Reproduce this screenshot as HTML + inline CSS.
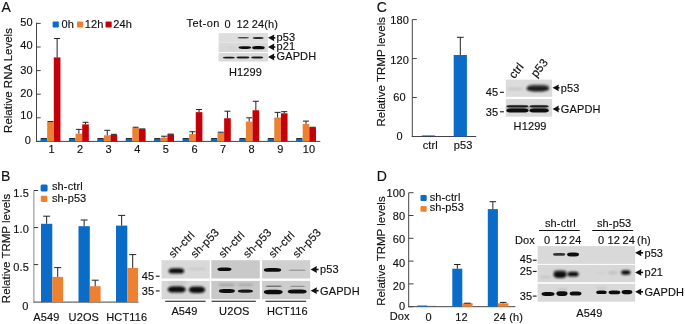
<!DOCTYPE html>
<html><head><meta charset="utf-8"><style>
html,body{margin:0;padding:0;background:#fff;}
svg{display:block;font-family:"Liberation Sans",sans-serif;filter:blur(0.35px);}
text{fill:#111;stroke:#111;stroke-width:0.15px;letter-spacing:0.12px;}
</style></head><body>
<svg width="685" height="324" viewBox="0 0 685 324">
<defs>
<filter id="b5" x="-20%" y="-100%" width="140%" height="300%"><feGaussianBlur stdDeviation="0.5"/></filter>
<filter id="b6" x="-20%" y="-100%" width="140%" height="300%"><feGaussianBlur stdDeviation="0.6"/></filter>
<filter id="b7" x="-20%" y="-100%" width="140%" height="300%"><feGaussianBlur stdDeviation="0.7"/></filter>
<filter id="b8" x="-20%" y="-100%" width="140%" height="300%"><feGaussianBlur stdDeviation="0.8"/></filter>
<filter id="b9" x="-20%" y="-100%" width="140%" height="300%"><feGaussianBlur stdDeviation="0.9"/></filter>
<filter id="b10" x="-20%" y="-100%" width="140%" height="300%"><feGaussianBlur stdDeviation="1.0"/></filter>
</defs>
<rect width="685" height="324" fill="#fff"/>
<text x="1.5" y="12.2" font-size="14" text-anchor="start" >A</text>
<line x1="36.5" y1="22.7" x2="36.5" y2="141.9" stroke="#444" stroke-width="1"/>
<line x1="36" y1="141.4" x2="320.3" y2="141.4" stroke="#444" stroke-width="1"/>
<line x1="36.5" y1="141.4" x2="40.7" y2="141.4" stroke="#444" stroke-width="1"/>
<text x="30.9" y="144.0" font-size="11" text-anchor="end" >0</text>
<line x1="36.5" y1="117.80000000000001" x2="40.7" y2="117.80000000000001" stroke="#444" stroke-width="1"/>
<text x="32.8" y="119.0" font-size="11" text-anchor="end" >10</text>
<line x1="36.5" y1="94.2" x2="40.7" y2="94.2" stroke="#444" stroke-width="1"/>
<text x="32.8" y="96.7" font-size="11" text-anchor="end" >20</text>
<line x1="36.5" y1="70.6" x2="40.7" y2="70.6" stroke="#444" stroke-width="1"/>
<text x="32.8" y="73.5" font-size="11" text-anchor="end" >30</text>
<line x1="36.5" y1="47.0" x2="40.7" y2="47.0" stroke="#444" stroke-width="1"/>
<text x="32.8" y="49.3" font-size="11" text-anchor="end" >40</text>
<line x1="36.5" y1="23.400000000000006" x2="40.7" y2="23.400000000000006" stroke="#444" stroke-width="1"/>
<text x="32.8" y="26.2" font-size="11" text-anchor="end" >50</text>
<text transform="translate(12,80.5) rotate(-90)" font-size="11.5" style="letter-spacing:0" text-anchor="middle">Relative RNA Levels</text>
<rect x="52.60" y="21.40" width="6.20" height="6.20" fill="#0a6cc6" rx="1"/>
<text x="61.4" y="28" font-size="11" text-anchor="start" >0h</text>
<rect x="77.00" y="21.40" width="6.20" height="6.20" fill="#ee8032" rx="1"/>
<text x="84.7" y="28" font-size="11" text-anchor="start" >12h</text>
<rect x="105.50" y="21.40" width="6.20" height="6.20" fill="#c40008" rx="1"/>
<text x="113.2" y="28" font-size="11" text-anchor="start" >24h</text>
<rect x="40.50" y="138.57" width="6.65" height="2.83" fill="#0a6cc6" />
<line x1="40.825" y1="138.568" x2="46.825" y2="138.568" stroke="#222" stroke-width="1"/>
<rect x="47.15" y="122.05" width="6.65" height="19.35" fill="#ee8032" />
<line x1="47.475" y1="121.57600000000001" x2="53.475" y2="121.57600000000001" stroke="#222" stroke-width="1"/>
<rect x="53.80" y="57.38" width="6.65" height="84.02" fill="#c40008" />
<line x1="57.125" y1="57.384" x2="57.125" y2="38.504000000000005" stroke="#222" stroke-width="1"/>
<line x1="54.125" y1="38.504000000000005" x2="60.125" y2="38.504000000000005" stroke="#222" stroke-width="1"/>
<text x="51.5" y="153.2" font-size="11" text-anchor="middle" >1</text>
<rect x="68.89" y="138.57" width="6.65" height="2.83" fill="#0a6cc6" />
<line x1="69.215" y1="138.568" x2="75.215" y2="138.568" stroke="#222" stroke-width="1"/>
<rect x="75.54" y="133.61" width="6.65" height="7.79" fill="#ee8032" />
<line x1="78.86500000000001" y1="133.612" x2="78.86500000000001" y2="129.364" stroke="#222" stroke-width="1"/>
<line x1="75.86500000000001" y1="129.364" x2="81.86500000000001" y2="129.364" stroke="#222" stroke-width="1"/>
<rect x="82.19" y="124.41" width="6.65" height="16.99" fill="#c40008" />
<line x1="85.515" y1="124.408" x2="85.515" y2="122.284" stroke="#222" stroke-width="1"/>
<line x1="82.515" y1="122.284" x2="88.515" y2="122.284" stroke="#222" stroke-width="1"/>
<text x="80.1" y="153.2" font-size="11" text-anchor="middle" >2</text>
<rect x="97.28" y="138.57" width="6.65" height="2.83" fill="#0a6cc6" />
<line x1="97.605" y1="138.568" x2="103.605" y2="138.568" stroke="#222" stroke-width="1"/>
<rect x="103.93" y="135.26" width="6.65" height="6.14" fill="#ee8032" />
<line x1="107.25500000000001" y1="135.264" x2="107.25500000000001" y2="130.308" stroke="#222" stroke-width="1"/>
<line x1="104.25500000000001" y1="130.308" x2="110.25500000000001" y2="130.308" stroke="#222" stroke-width="1"/>
<rect x="110.58" y="134.91" width="6.65" height="6.49" fill="#c40008" />
<line x1="113.905" y1="134.91" x2="113.905" y2="134.32" stroke="#222" stroke-width="1"/>
<line x1="110.905" y1="134.32" x2="116.905" y2="134.32" stroke="#222" stroke-width="1"/>
<text x="108.7" y="153.2" font-size="11" text-anchor="middle" >3</text>
<rect x="125.67" y="138.57" width="6.65" height="2.83" fill="#0a6cc6" />
<line x1="125.995" y1="138.568" x2="131.995" y2="138.568" stroke="#222" stroke-width="1"/>
<rect x="132.32" y="127.95" width="6.65" height="13.45" fill="#ee8032" />
<line x1="135.64499999999998" y1="127.94800000000001" x2="135.64499999999998" y2="127.24000000000001" stroke="#222" stroke-width="1"/>
<line x1="132.64499999999998" y1="127.24000000000001" x2="138.64499999999998" y2="127.24000000000001" stroke="#222" stroke-width="1"/>
<rect x="138.97" y="129.13" width="6.65" height="12.27" fill="#c40008" />
<line x1="139.295" y1="128.892" x2="145.295" y2="128.892" stroke="#222" stroke-width="1"/>
<text x="137.3" y="153.2" font-size="11" text-anchor="middle" >4</text>
<rect x="154.06" y="138.57" width="6.65" height="2.83" fill="#0a6cc6" />
<line x1="154.385" y1="138.568" x2="160.385" y2="138.568" stroke="#222" stroke-width="1"/>
<rect x="160.71" y="137.62" width="6.65" height="3.78" fill="#ee8032" />
<line x1="164.035" y1="137.624" x2="164.035" y2="136.208" stroke="#222" stroke-width="1"/>
<line x1="161.035" y1="136.208" x2="167.035" y2="136.208" stroke="#222" stroke-width="1"/>
<rect x="167.36" y="134.32" width="6.65" height="7.08" fill="#c40008" />
<line x1="167.685" y1="134.084" x2="173.685" y2="134.084" stroke="#222" stroke-width="1"/>
<text x="165.9" y="153.2" font-size="11" text-anchor="middle" >5</text>
<rect x="182.45" y="138.57" width="6.65" height="2.83" fill="#0a6cc6" />
<line x1="182.77499999999998" y1="138.568" x2="188.77499999999998" y2="138.568" stroke="#222" stroke-width="1"/>
<rect x="189.10" y="134.08" width="6.65" height="7.32" fill="#ee8032" />
<line x1="192.42499999999998" y1="134.084" x2="192.42499999999998" y2="131.72400000000002" stroke="#222" stroke-width="1"/>
<line x1="189.42499999999998" y1="131.72400000000002" x2="195.42499999999998" y2="131.72400000000002" stroke="#222" stroke-width="1"/>
<rect x="195.75" y="112.14" width="6.65" height="29.26" fill="#c40008" />
<line x1="199.075" y1="112.13600000000001" x2="199.075" y2="109.54" stroke="#222" stroke-width="1"/>
<line x1="196.075" y1="109.54" x2="202.075" y2="109.54" stroke="#222" stroke-width="1"/>
<text x="194.5" y="153.2" font-size="11" text-anchor="middle" >6</text>
<rect x="210.84" y="138.57" width="6.65" height="2.83" fill="#0a6cc6" />
<line x1="211.165" y1="138.568" x2="217.165" y2="138.568" stroke="#222" stroke-width="1"/>
<rect x="217.49" y="132.67" width="6.65" height="8.73" fill="#ee8032" />
<line x1="217.815" y1="132.196" x2="223.815" y2="132.196" stroke="#222" stroke-width="1"/>
<rect x="224.14" y="118.27" width="6.65" height="23.13" fill="#c40008" />
<line x1="227.465" y1="118.272" x2="227.465" y2="111.19200000000001" stroke="#222" stroke-width="1"/>
<line x1="224.465" y1="111.19200000000001" x2="230.465" y2="111.19200000000001" stroke="#222" stroke-width="1"/>
<text x="223.10000000000002" y="153.2" font-size="11" text-anchor="middle" >7</text>
<rect x="239.23" y="138.57" width="6.65" height="2.83" fill="#0a6cc6" />
<line x1="239.555" y1="138.568" x2="245.555" y2="138.568" stroke="#222" stroke-width="1"/>
<rect x="245.88" y="121.58" width="6.65" height="19.82" fill="#ee8032" />
<line x1="249.205" y1="121.57600000000001" x2="249.205" y2="117.80000000000001" stroke="#222" stroke-width="1"/>
<line x1="246.205" y1="117.80000000000001" x2="252.205" y2="117.80000000000001" stroke="#222" stroke-width="1"/>
<rect x="252.53" y="110.25" width="6.65" height="31.15" fill="#c40008" />
<line x1="255.85500000000002" y1="110.248" x2="255.85500000000002" y2="101.28" stroke="#222" stroke-width="1"/>
<line x1="252.85500000000002" y1="101.28" x2="258.855" y2="101.28" stroke="#222" stroke-width="1"/>
<text x="251.70000000000002" y="153.2" font-size="11" text-anchor="middle" >8</text>
<rect x="267.62" y="138.57" width="6.65" height="2.83" fill="#0a6cc6" />
<line x1="267.945" y1="138.568" x2="273.945" y2="138.568" stroke="#222" stroke-width="1"/>
<rect x="274.27" y="117.56" width="6.65" height="23.84" fill="#ee8032" />
<line x1="277.59499999999997" y1="117.56400000000001" x2="277.59499999999997" y2="112.37200000000001" stroke="#222" stroke-width="1"/>
<line x1="274.59499999999997" y1="112.37200000000001" x2="280.59499999999997" y2="112.37200000000001" stroke="#222" stroke-width="1"/>
<rect x="280.92" y="113.32" width="6.65" height="28.08" fill="#c40008" />
<line x1="284.245" y1="113.316" x2="284.245" y2="111.66400000000002" stroke="#222" stroke-width="1"/>
<line x1="281.245" y1="111.66400000000002" x2="287.245" y2="111.66400000000002" stroke="#222" stroke-width="1"/>
<text x="280.3" y="153.2" font-size="11" text-anchor="middle" >9</text>
<rect x="296.01" y="138.57" width="6.65" height="2.83" fill="#0a6cc6" />
<line x1="296.335" y1="138.568" x2="302.335" y2="138.568" stroke="#222" stroke-width="1"/>
<rect x="302.66" y="123.94" width="6.65" height="17.46" fill="#ee8032" />
<line x1="305.98499999999996" y1="123.936" x2="305.98499999999996" y2="121.10400000000001" stroke="#222" stroke-width="1"/>
<line x1="302.98499999999996" y1="121.10400000000001" x2="308.98499999999996" y2="121.10400000000001" stroke="#222" stroke-width="1"/>
<rect x="309.31" y="127.48" width="6.65" height="13.92" fill="#c40008" />
<line x1="309.635" y1="127.24000000000001" x2="315.635" y2="127.24000000000001" stroke="#222" stroke-width="1"/>
<text x="308.90000000000003" y="153.2" font-size="11" text-anchor="middle" >10</text>
<text x="186.5" y="26.7" font-size="11" text-anchor="start" style="letter-spacing:0.45px">Tet-on</text>
<text x="224.6" y="27.5" font-size="11" text-anchor="start" >0</text>
<text x="236.6" y="27.5" font-size="11" text-anchor="start" >12</text>
<text x="251.8" y="27.5" font-size="11" text-anchor="start" >24(h)</text>
<rect x="218.60" y="33.10" width="49.30" height="9.40" fill="#dedede" />
<rect x="218.60" y="42.50" width="49.30" height="9.50" fill="#d9d9d9" />
<rect x="218.60" y="52.90" width="49.30" height="8.60" fill="#dadada" />
<rect x="237.5" y="37.1" width="11.5" height="1.5" rx="2.7" ry="0.8" fill="#111" opacity="0.7" filter="url(#b5)"/>
<rect x="252.7" y="36.9" width="11.0" height="2.0" rx="3.2" ry="1.0" fill="#111" opacity="0.85" filter="url(#b5)"/>
<rect x="226.0" y="46.9" width="10.0" height="1.5" rx="2.7" ry="0.8" fill="#111" opacity="0.06" filter="url(#b8)"/>
<rect x="238.5" y="46.2" width="12.6" height="2.8" rx="3.8" ry="1.4" fill="#111" opacity="1" filter="url(#b5)"/>
<rect x="252.2" y="46.1" width="12.5" height="3.1" rx="3.8" ry="1.6" fill="#111" opacity="1" filter="url(#b5)"/>
<rect x="222.8" y="56.7" width="12.1" height="1.8" rx="3.0" ry="0.9" fill="#111" opacity="0.95" filter="url(#b5)"/>
<rect x="236.4" y="56.6" width="13.1" height="2.0" rx="3.2" ry="1.0" fill="#111" opacity="0.95" filter="url(#b5)"/>
<rect x="251.1" y="56.6" width="12.1" height="2.0" rx="3.2" ry="1.0" fill="#111" opacity="0.95" filter="url(#b5)"/>
<path d="M268 37.8 L274.3 34.4 L273.8 37.8 L274.3 41.199999999999996 Z" fill="#111"/>
<line x1="271.5" y1="37.8" x2="275.3" y2="37.8" stroke="#111" stroke-width="1.6"/>
<text x="276.5" y="41.199999999999996" font-size="11" text-anchor="start" >p53</text>
<path d="M268 47 L274.3 43.6 L273.8 47 L274.3 50.4 Z" fill="#111"/>
<line x1="271.5" y1="47" x2="275.3" y2="47" stroke="#111" stroke-width="1.6"/>
<text x="276.5" y="50.4" font-size="11" text-anchor="start" >p21</text>
<path d="M268 57 L274.3 53.6 L273.8 57 L274.3 60.4 Z" fill="#111"/>
<line x1="271.5" y1="57" x2="275.3" y2="57" stroke="#111" stroke-width="1.6"/>
<text x="276.5" y="60.4" font-size="11" text-anchor="start" >GAPDH</text>
<text x="228.9" y="75.6" font-size="11" text-anchor="start" >H1299</text>
<text x="376.8" y="11.9" font-size="14" text-anchor="start" >C</text>
<line x1="412.3" y1="19.6" x2="412.3" y2="137.0" stroke="#444" stroke-width="1"/>
<line x1="411.8" y1="136.5" x2="476.2" y2="136.5" stroke="#444" stroke-width="1"/>
<line x1="412.3" y1="136.5" x2="416.8" y2="136.5" stroke="#444" stroke-width="1"/>
<text x="399.6" y="140.1" font-size="11" text-anchor="middle" >0</text>
<line x1="412.3" y1="97.53" x2="416.8" y2="97.53" stroke="#444" stroke-width="1"/>
<text x="399.6" y="101.2" font-size="11" text-anchor="middle" >60</text>
<line x1="412.3" y1="58.56" x2="416.8" y2="58.56" stroke="#444" stroke-width="1"/>
<text x="399.6" y="63.6" font-size="11" text-anchor="middle" >120</text>
<line x1="412.3" y1="19.590000000000003" x2="416.8" y2="19.590000000000003" stroke="#444" stroke-width="1"/>
<text x="399.6" y="24.2" font-size="11" text-anchor="middle" >180</text>
<text transform="translate(385,71.8) rotate(-90)" font-size="11.5" style="letter-spacing:0" text-anchor="middle">Relative TRMP levels</text>
<rect x="421.90" y="135.50" width="13.00" height="1.00" fill="#1d3f78" />
<rect x="453.70" y="55.00" width="13.20" height="81.50" fill="#0a6cc6" />
<line x1="460.3" y1="55" x2="460.3" y2="37.3" stroke="#222" stroke-width="1"/>
<line x1="456.90000000000003" y1="37.3" x2="463.7" y2="37.3" stroke="#222" stroke-width="1"/>
<text x="430.3" y="149.3" font-size="11" text-anchor="middle" >ctrl</text>
<text x="463.1" y="149.3" font-size="11" text-anchor="middle" >p53</text>
<rect x="505.80" y="79.60" width="46.30" height="17.20" fill="#dcdcdc" />
<rect x="505.80" y="99.00" width="46.30" height="17.70" fill="#dadada" />
<rect x="507.0" y="87.7" width="16.0" height="2.5" rx="3.8" ry="1.2" fill="#111" opacity="0.1" filter="url(#b10)"/>
<rect x="528.0" y="84.2" width="21.0" height="4.0" rx="5.4" ry="2.0" fill="#111" opacity="0.35" filter="url(#b10)"/>
<rect x="526.4" y="85.8" width="22.9" height="5.6" rx="6.9" ry="2.8" fill="#1a1a1a" opacity="1" filter="url(#b8)"/>
<rect x="506.3" y="105.7" width="22.3" height="5.0" rx="6.5" ry="2.5" fill="#111" opacity="0.45" filter="url(#b8)"/>
<rect x="506.3" y="105.2" width="22.3" height="2.0" rx="3.2" ry="1.0" fill="#111" opacity="0.9" filter="url(#b6)"/>
<rect x="506.3" y="108.6" width="22.3" height="4.0" rx="5.4" ry="2.0" fill="#111" opacity="1" filter="url(#b6)"/>
<rect x="529.4" y="105.7" width="19.4" height="5.0" rx="5.8" ry="2.5" fill="#111" opacity="0.45" filter="url(#b8)"/>
<rect x="529.4" y="105.2" width="19.4" height="2.0" rx="3.2" ry="1.0" fill="#111" opacity="0.9" filter="url(#b6)"/>
<rect x="529.4" y="108.6" width="19.4" height="4.0" rx="5.4" ry="2.0" fill="#111" opacity="1" filter="url(#b6)"/>
<text x="498.2" y="96.2" font-size="11" text-anchor="end" >45</text>
<line x1="500" y1="92.3" x2="503.9" y2="92.3" stroke="#111" stroke-width="1.1"/>
<text x="498.2" y="115.5" font-size="11" text-anchor="end" >35</text>
<line x1="500" y1="111.8" x2="503.9" y2="111.8" stroke="#111" stroke-width="1.1"/>
<path d="M552.5 87.8 L558.8 84.39999999999999 L558.3 87.8 L558.8 91.2 Z" fill="#111"/>
<line x1="556.0" y1="87.8" x2="559.5" y2="87.8" stroke="#111" stroke-width="1.6"/>
<text x="560.8" y="91.7" font-size="11" text-anchor="start" >p53</text>
<path d="M552.5 109 L558.8 105.6 L558.3 109 L558.8 112.4 Z" fill="#111"/>
<line x1="556.0" y1="109" x2="559.5" y2="109" stroke="#111" stroke-width="1.6"/>
<text x="560.8" y="112.9" font-size="11" text-anchor="start" >GAPDH</text>
<text x="513.6" y="129.5" font-size="11" text-anchor="start" >H1299</text>
<text transform="translate(514.2,79.3) rotate(-51)" font-size="11.6">ctrl</text>
<text transform="translate(536.2,78) rotate(-51)" font-size="11.6">p53</text>
<text x="1" y="181.2" font-size="14" text-anchor="start" >B</text>
<line x1="33.9" y1="190.5" x2="33.9" y2="302.6" stroke="#888" stroke-width="1"/>
<line x1="33.5" y1="302.1" x2="138.5" y2="302.1" stroke="#444" stroke-width="1"/>
<line x1="33.9" y1="264.6" x2="38.2" y2="264.6" stroke="#333" stroke-width="1"/>
<text x="29" y="271.4" font-size="11" text-anchor="end" >0.5</text>
<line x1="33.9" y1="227.6" x2="38.2" y2="227.6" stroke="#333" stroke-width="1"/>
<text x="29" y="233.4" font-size="11" text-anchor="end" >1.0</text>
<line x1="33.9" y1="190.5" x2="38.2" y2="190.5" stroke="#333" stroke-width="1"/>
<text x="29" y="196.6" font-size="11" text-anchor="end" >1.5</text>
<text x="28.4" y="310.09999999999997" font-size="11" text-anchor="end" >0</text>
<text transform="translate(9.6,248.4) rotate(-90)" font-size="11.5" style="letter-spacing:0" text-anchor="middle">Relative TRMP levels</text>
<rect x="40.60" y="184.60" width="7.00" height="7.00" fill="#0a6cc6" rx="1.5"/>
<text x="52" y="190.1" font-size="11" text-anchor="start" >sh-ctrl</text>
<rect x="40.80" y="195.70" width="6.50" height="6.30" fill="#ee8032" rx="1"/>
<text x="52" y="201.6" font-size="11" text-anchor="start" >sh-p53</text>
<rect x="41.00" y="223.80" width="11.30" height="78.30" fill="#0a6cc6" />
<line x1="46.65" y1="223.8" x2="46.65" y2="216.2" stroke="#222" stroke-width="1"/>
<line x1="43.15" y1="216.2" x2="50.15" y2="216.2" stroke="#222" stroke-width="1"/>
<rect x="52.30" y="276.90" width="10.80" height="25.20" fill="#ee8032" />
<line x1="57.699999999999996" y1="276.9" x2="57.699999999999996" y2="267.6" stroke="#222" stroke-width="1"/>
<line x1="54.199999999999996" y1="267.6" x2="61.199999999999996" y2="267.6" stroke="#222" stroke-width="1"/>
<rect x="78.50" y="226.20" width="11.30" height="75.90" fill="#0a6cc6" />
<line x1="84.15" y1="226.2" x2="84.15" y2="220" stroke="#222" stroke-width="1"/>
<line x1="80.65" y1="220" x2="87.65" y2="220" stroke="#222" stroke-width="1"/>
<rect x="89.80" y="286.20" width="10.80" height="15.90" fill="#ee8032" />
<line x1="95.2" y1="286.2" x2="95.2" y2="280.2" stroke="#222" stroke-width="1"/>
<line x1="91.7" y1="280.2" x2="98.7" y2="280.2" stroke="#222" stroke-width="1"/>
<rect x="116.00" y="225.60" width="11.30" height="76.50" fill="#0a6cc6" />
<line x1="121.65" y1="225.6" x2="121.65" y2="215.4" stroke="#222" stroke-width="1"/>
<line x1="118.15" y1="215.4" x2="125.15" y2="215.4" stroke="#222" stroke-width="1"/>
<rect x="127.30" y="267.90" width="10.80" height="34.20" fill="#ee8032" />
<line x1="132.7" y1="267.9" x2="132.7" y2="254.6" stroke="#222" stroke-width="1"/>
<line x1="129.2" y1="254.6" x2="136.2" y2="254.6" stroke="#222" stroke-width="1"/>
<text x="46.3" y="321" font-size="11" text-anchor="middle" >A549</text>
<text x="83.8" y="321" font-size="11" text-anchor="middle" >U2OS</text>
<text x="126.7" y="321" font-size="11" text-anchor="middle" >HCT116</text>
<rect x="161.50" y="260.20" width="48.30" height="18.30" fill="#d9d9d9" />
<rect x="161.50" y="280.90" width="48.30" height="18.30" fill="#d7d7d7" />
<rect x="211.30" y="260.20" width="48.50" height="18.30" fill="#c9c9c9" />
<rect x="211.30" y="280.90" width="48.50" height="18.30" fill="#c8c8c8" />
<rect x="262.10" y="260.20" width="48.10" height="18.30" fill="#d0d0d0" />
<rect x="262.10" y="280.90" width="48.10" height="18.30" fill="#cdcdcd" />
<rect x="168.6" y="268.2" width="15.6" height="5.4" rx="4.7" ry="2.7" fill="#111" opacity="1" filter="url(#b8)"/>
<rect x="188.0" y="268.0" width="18.0" height="2.0" rx="3.2" ry="1.0" fill="#111" opacity="0.08" filter="url(#b10)"/>
<rect x="168.0" y="281.8" width="18.5" height="2.0" rx="3.2" ry="1.0" fill="#111" opacity="0.12" filter="url(#b10)"/>
<rect x="167.7" y="286.2" width="18.1" height="6.4" rx="5.4" ry="3.2" fill="#111" opacity="1" filter="url(#b8)"/>
<rect x="188.8" y="286.6" width="16.4" height="6.4" rx="4.9" ry="3.2" fill="#111" opacity="1" filter="url(#b8)"/>
<rect x="217.4" y="267.5" width="14.1" height="3.6" rx="4.2" ry="1.8" fill="#111" opacity="1" filter="url(#b7)"/>
<rect x="218.5" y="283.7" width="16.5" height="2.2" rx="3.4" ry="1.1" fill="#111" opacity="0.22" filter="url(#b9)"/>
<rect x="237.9" y="283.7" width="15.2" height="2.2" rx="3.4" ry="1.1" fill="#111" opacity="0.18" filter="url(#b9)"/>
<rect x="218.9" y="289.1" width="16.0" height="3.8" rx="4.8" ry="1.9" fill="#111" opacity="1" filter="url(#b7)"/>
<rect x="237.8" y="289.4" width="15.2" height="3.4" rx="4.6" ry="1.7" fill="#111" opacity="0.95" filter="url(#b7)"/>
<rect x="263.8" y="268.0" width="17.4" height="3.8" rx="5.2" ry="1.9" fill="#111" opacity="1" filter="url(#b7)"/>
<rect x="288.5" y="269.4" width="17.4" height="1.5" rx="2.7" ry="0.8" fill="#111" opacity="0.25" filter="url(#b7)"/>
<rect x="265.5" y="285.6" width="16.5" height="1.5" rx="2.7" ry="0.8" fill="#111" opacity="0.45" filter="url(#b6)"/>
<rect x="290.0" y="285.7" width="15.0" height="1.2" rx="2.3" ry="0.6" fill="#111" opacity="0.3" filter="url(#b6)"/>
<rect x="263.8" y="289.7" width="18.9" height="4.6" rx="5.7" ry="2.3" fill="#111" opacity="1" filter="url(#b7)"/>
<rect x="287.8" y="289.5" width="18.8" height="4.0" rx="5.4" ry="2.0" fill="#111" opacity="1" filter="url(#b7)"/>
<line x1="165.2" y1="301.3" x2="205.6" y2="301.3" stroke="#111" stroke-width="1.1"/>
<text x="184.5" y="314.5" font-size="11" text-anchor="middle" >A549</text>
<line x1="211.6" y1="301.3" x2="255.8" y2="301.3" stroke="#111" stroke-width="1.1"/>
<text x="234.3" y="314.5" font-size="11" text-anchor="middle" >U2OS</text>
<line x1="265.5" y1="301.3" x2="306.2" y2="301.3" stroke="#111" stroke-width="1.1"/>
<text x="287.4" y="314.5" font-size="11" text-anchor="middle" >HCT116</text>
<text x="154.3" y="280" font-size="11" text-anchor="end" >45</text>
<line x1="155.8" y1="276.2" x2="159.6" y2="276.2" stroke="#111" stroke-width="1.1"/>
<text x="154.3" y="294.6" font-size="11" text-anchor="end" >35</text>
<line x1="155.8" y1="290.9" x2="159.6" y2="290.9" stroke="#111" stroke-width="1.1"/>
<path d="M310.6 269.5 L316.90000000000003 266.1 L316.40000000000003 269.5 L316.90000000000003 272.9 Z" fill="#111"/>
<line x1="314.1" y1="269.5" x2="318.6" y2="269.5" stroke="#111" stroke-width="1.6"/>
<text x="320" y="273.4" font-size="11" text-anchor="start" >p53</text>
<path d="M310.6 290.7 L316.90000000000003 287.3 L316.40000000000003 290.7 L316.90000000000003 294.09999999999997 Z" fill="#111"/>
<line x1="314.1" y1="290.7" x2="318.6" y2="290.7" stroke="#111" stroke-width="1.6"/>
<text x="320" y="294.6" font-size="11" text-anchor="start" >GAPDH</text>
<text transform="translate(173.3,258.5) rotate(-46)" font-size="11.3">sh-ctrl</text>
<text transform="translate(195.3,258.5) rotate(-46)" font-size="11.3">sh-p53</text>
<text transform="translate(223.3,258.5) rotate(-46)" font-size="11.3">sh-ctrl</text>
<text transform="translate(247.8,258.5) rotate(-46)" font-size="11.3">sh-p53</text>
<text transform="translate(273.3,258.5) rotate(-46)" font-size="11.3">sh-ctrl</text>
<text transform="translate(297.3,258.5) rotate(-46)" font-size="11.3">sh-p53</text>
<text x="376.8" y="181" font-size="14" text-anchor="start" >D</text>
<line x1="408.7" y1="192.8" x2="408.7" y2="307.2" stroke="#444" stroke-width="1"/>
<line x1="408.3" y1="306.7" x2="515.4" y2="306.7" stroke="#444" stroke-width="1"/>
<line x1="408.7" y1="306.7" x2="413.5" y2="306.7" stroke="#444" stroke-width="1"/>
<text x="405.2" y="309.9" font-size="11" text-anchor="end" >0</text>
<line x1="408.7" y1="283.9" x2="413.5" y2="283.9" stroke="#444" stroke-width="1"/>
<text x="405.2" y="290.2" font-size="11" text-anchor="end" >20</text>
<line x1="408.7" y1="261.09999999999997" x2="413.5" y2="261.09999999999997" stroke="#444" stroke-width="1"/>
<text x="405.2" y="266.79999999999995" font-size="11" text-anchor="end" >40</text>
<line x1="408.7" y1="238.29999999999998" x2="413.5" y2="238.29999999999998" stroke="#444" stroke-width="1"/>
<text x="405.2" y="243.1" font-size="11" text-anchor="end" >60</text>
<line x1="408.7" y1="215.5" x2="413.5" y2="215.5" stroke="#444" stroke-width="1"/>
<text x="405.2" y="219.9" font-size="11" text-anchor="end" >80</text>
<line x1="408.7" y1="192.7" x2="413.5" y2="192.7" stroke="#444" stroke-width="1"/>
<text x="405.2" y="196.9" font-size="11" text-anchor="end" >100</text>
<text transform="translate(384.9,251.1) rotate(-90)" font-size="11.5" style="letter-spacing:0" text-anchor="middle">Relative TRMP levels</text>
<rect x="420.50" y="195.10" width="6.20" height="5.80" fill="#0a6cc6" rx="1"/>
<text x="429.7" y="200.7" font-size="11" text-anchor="start" >sh-ctrl</text>
<rect x="420.50" y="205.90" width="6.20" height="5.80" fill="#ee8032" rx="1"/>
<text x="429.7" y="211.4" font-size="11" text-anchor="start" >sh-p53</text>
<rect x="417.20" y="305.50" width="10.10" height="1.20" fill="#0a6cc6" />
<rect x="427.30" y="305.90" width="8.90" height="0.80" fill="#6b5a50" />
<rect x="452.30" y="268.70" width="10.00" height="38.00" fill="#0a6cc6" />
<line x1="457.3" y1="268.7" x2="457.3" y2="264.5" stroke="#222" stroke-width="1"/>
<line x1="454.05" y1="264.5" x2="460.55" y2="264.5" stroke="#222" stroke-width="1"/>
<rect x="462.30" y="303.20" width="10.30" height="3.50" fill="#ee8032" />
<line x1="464.2" y1="303.2" x2="470.7" y2="303.2" stroke="#222" stroke-width="1"/>
<rect x="487.80" y="209.10" width="10.10" height="97.60" fill="#0a6cc6" />
<line x1="492.85" y1="209.1" x2="492.85" y2="201.7" stroke="#222" stroke-width="1"/>
<line x1="489.6" y1="201.7" x2="496.1" y2="201.7" stroke="#222" stroke-width="1"/>
<rect x="497.90" y="303.30" width="10.50" height="3.40" fill="#ee8032" />
<line x1="503.15" y1="303.3" x2="503.15" y2="302.4" stroke="#222" stroke-width="1"/>
<line x1="499.9" y1="302.4" x2="506.4" y2="302.4" stroke="#222" stroke-width="1"/>
<text x="389.8" y="319.6" font-size="11" text-anchor="start" >Dox</text>
<text x="428.5" y="320.8" font-size="11" text-anchor="middle" >0</text>
<text x="461.6" y="320.8" font-size="11" text-anchor="middle" >12</text>
<text x="493.6" y="320.8" font-size="11" text-anchor="start" >24 (h)</text>
<rect x="537.60" y="246.10" width="97.50" height="17.80" fill="#d9d9d9" />
<rect x="537.60" y="264.90" width="97.50" height="17.30" fill="#d7d7d7" />
<rect x="537.60" y="283.80" width="97.50" height="17.90" fill="#d9d9d9" />
<rect x="553.0" y="253.0" width="12.3" height="2.8" rx="3.7" ry="1.4" fill="#111" opacity="0.8" filter="url(#b7)"/>
<rect x="567.1" y="252.6" width="11.9" height="3.8" rx="3.6" ry="1.9" fill="#111" opacity="1" filter="url(#b7)"/>
<rect x="553.8" y="270.0" width="12.8" height="3.0" rx="3.8" ry="1.5" fill="#111" opacity="0.35" filter="url(#b10)"/>
<rect x="553.6" y="271.3" width="13.0" height="6.6" rx="3.9" ry="3.3" fill="#111" opacity="1" filter="url(#b9)"/>
<rect x="567.5" y="271.8" width="11.1" height="4.8" rx="3.3" ry="2.4" fill="#111" opacity="1" filter="url(#b8)"/>
<rect x="540.0" y="276.0" width="11.0" height="2.0" rx="3.2" ry="1.0" fill="#111" opacity="0.1" filter="url(#b10)"/>
<rect x="596.0" y="272.2" width="9.0" height="1.6" rx="2.7" ry="0.8" fill="#111" opacity="0.06" filter="url(#b10)"/>
<rect x="608.2" y="271.7" width="9.3" height="2.0" rx="2.8" ry="1.0" fill="#111" opacity="0.16" filter="url(#b10)"/>
<rect x="621.2" y="270.3" width="9.2" height="4.4" rx="2.8" ry="2.2" fill="#111" opacity="1" filter="url(#b8)"/>
<rect x="557.0" y="288.8" width="10.5" height="1.6" rx="2.8" ry="0.8" fill="#111" opacity="0.15" filter="url(#b8)"/>
<rect x="596.2" y="287.5" width="10.5" height="1.6" rx="2.8" ry="0.8" fill="#111" opacity="0.12" filter="url(#b8)"/>
<rect x="541.6" y="292.1" width="12.9" height="3.9" rx="3.9" ry="1.9" fill="#111" opacity="1" filter="url(#b7)"/>
<rect x="556.4" y="291.2" width="11.1" height="4.8" rx="3.3" ry="2.4" fill="#111" opacity="1" filter="url(#b7)"/>
<rect x="569.7" y="291.6" width="11.7" height="4.0" rx="3.5" ry="2.0" fill="#111" opacity="1" filter="url(#b7)"/>
<rect x="596.2" y="290.4" width="10.5" height="3.7" rx="3.1" ry="1.9" fill="#111" opacity="1" filter="url(#b7)"/>
<rect x="608.6" y="290.6" width="11.7" height="3.6" rx="3.5" ry="1.8" fill="#111" opacity="1" filter="url(#b7)"/>
<rect x="621.6" y="289.9" width="10.7" height="4.3" rx="3.2" ry="2.1" fill="#111" opacity="1" filter="url(#b7)"/>
<text x="545" y="227" font-size="11" text-anchor="start" >sh-ctrl</text>
<line x1="539" y1="230.5" x2="579.7" y2="230.5" stroke="#111" stroke-width="1.1"/>
<text x="597" y="227" font-size="11" text-anchor="start" >sh-p53</text>
<line x1="592.2" y1="230.5" x2="633.1" y2="230.5" stroke="#111" stroke-width="1.1"/>
<text x="515" y="243.5" font-size="11" text-anchor="start" >Dox</text>
<text x="544" y="243.5" font-size="11" text-anchor="start" >0</text>
<text x="554.5" y="243.5" font-size="11" text-anchor="start" >12</text>
<text x="569.1" y="243.5" font-size="11" text-anchor="start" >24</text>
<text x="598" y="243.5" font-size="11" text-anchor="start" >0</text>
<text x="607.6" y="243.5" font-size="11" text-anchor="start" >12</text>
<text x="622.4" y="243.5" font-size="11" text-anchor="start" >24</text>
<text x="637.1" y="243.5" font-size="11" text-anchor="start" >(h)</text>
<text x="532.2" y="263" font-size="11" text-anchor="end" >45</text>
<line x1="532.8" y1="260.2" x2="536.6" y2="260.2" stroke="#111" stroke-width="1.1"/>
<text x="532.2" y="275.4" font-size="11" text-anchor="end" >25</text>
<line x1="532.8" y1="271.4" x2="536.6" y2="271.4" stroke="#111" stroke-width="1.1"/>
<text x="532.2" y="300.4" font-size="11" text-anchor="end" >35</text>
<line x1="532.8" y1="296.1" x2="536.6" y2="296.1" stroke="#111" stroke-width="1.1"/>
<path d="M635.1 252.8 L641.4 249.4 L640.9 252.8 L641.4 256.2 Z" fill="#111"/>
<line x1="638.6" y1="252.8" x2="643.1" y2="252.8" stroke="#111" stroke-width="1.6"/>
<text x="644.4" y="256.7" font-size="11" text-anchor="start" >p53</text>
<path d="M635.1 272.4 L641.4 269.0 L640.9 272.4 L641.4 275.79999999999995 Z" fill="#111"/>
<line x1="638.6" y1="272.4" x2="643.1" y2="272.4" stroke="#111" stroke-width="1.6"/>
<text x="644.4" y="276.29999999999995" font-size="11" text-anchor="start" >p21</text>
<path d="M635.1 291.8 L641.4 288.40000000000003 L640.9 291.8 L641.4 295.2 Z" fill="#111"/>
<line x1="638.6" y1="291.8" x2="643.1" y2="291.8" stroke="#111" stroke-width="1.6"/>
<text x="644.4" y="295.7" font-size="11" text-anchor="start" >GAPDH</text>
<text x="576.3" y="316.8" font-size="11" text-anchor="start" >A549</text>
</svg>
</body></html>
